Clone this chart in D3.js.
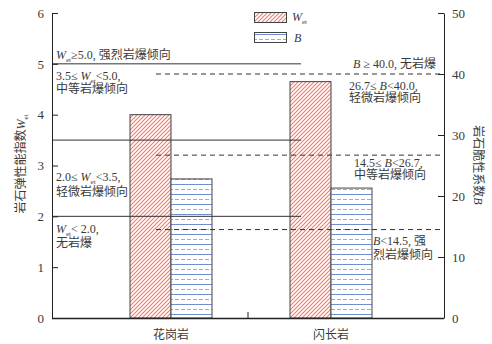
<!DOCTYPE html>
<html>
<head>
<meta charset="utf-8">
<script src="https://cdn.jsdelivr.net/npm/d3@7"></script>
<style>
  body { margin: 0; background: #fff; }
  svg text { font-family: "Liberation Serif", "Noto Sans CJK SC", serif; fill: #3a3a3a; }
</style>
</head>
<body>
<div id="chart"></div>
<script>
// data
var categories = ["花岗岩", "闪长岩"];
var wetValues = [4.0, 4.65];
var bValues = [22.8, 21.3];
var wetThresholds = [5.0, 3.5, 2.0];
var bThresholds = [40.0, 26.7, 14.5];
var wetTicks = [0, 1, 2, 3, 4, 5, 6];
var bTicks = [0, 10, 20, 30, 40, 50];

var W = 492, H = 344;
var plot = { left: 52, right: 444, top: 13, bottom: 318 };

var svg = d3.select("#chart").append("svg")
  .attr("width", W).attr("height", H);

var defs = svg.append("defs");
// red diagonal hatch
var hatch = defs.append("pattern")
  .attr("id", "hatchW")
  .attr("patternUnits", "userSpaceOnUse")
  .attr("width", 4).attr("height", 4);
hatch.append("rect").attr("width", 4).attr("height", 4).attr("fill", "#fff");
hatch.append("path")
  .attr("d", "M-1,1 l2,-2 M0,4 l4,-4 M3,5 l2,-2")
  .attr("fill", "none")
  .attr("stroke", "#f27a68").attr("stroke-width", 1.1);

// blue horizontal lines, solid + dashed
var hz = defs.append("pattern")
  .attr("id", "hatchB")
  .attr("patternUnits", "userSpaceOnUse")
  .attr("width", 12).attr("height", 10);
hz.append("rect").attr("width", 12).attr("height", 10).attr("fill", "#fff");
hz.append("line").attr("x1", 0).attr("x2", 12).attr("y1", 4.5).attr("y2", 4.5)
  .attr("stroke", "#6f8fd2").attr("stroke-width", 1);
hz.append("line").attr("x1", 1).attr("x2", 12).attr("y1", 9.5).attr("y2", 9.5)
  .attr("stroke", "#93ade2").attr("stroke-width", 1)
  .attr("stroke-dasharray", "4,2");

var x = d3.scaleBand().domain(categories).range([91, 411]);
var yW = d3.scaleLinear().domain([0, 6]).range([plot.bottom, plot.top]);
var yB = d3.scaleLinear().domain([0, 50]).range([plot.bottom, plot.top]);
var barW = 41;

// bars
categories.forEach(function (c, i) {
  var cx = x(c) + x.bandwidth() / 2;
  svg.append("rect")
    .attr("x", cx - barW).attr("y", yW(wetValues[i]))
    .attr("width", barW).attr("height", plot.bottom - yW(wetValues[i]))
    .attr("fill", "url(#hatchW)").attr("stroke", "#444").attr("stroke-width", 1);
  svg.append("rect")
    .attr("x", cx).attr("y", yB(bValues[i]))
    .attr("width", barW).attr("height", plot.bottom - yB(bValues[i]))
    .attr("fill", "url(#hatchB)").attr("stroke", "#444").attr("stroke-width", 1);
});

// threshold lines
var solidEnd = 301, dashStart = 156;
wetThresholds.forEach(function (t) {
  svg.append("line")
    .attr("x1", plot.left).attr("x2", solidEnd)
    .attr("y1", yW(t)).attr("y2", yW(t))
    .attr("stroke", "#333").attr("stroke-width", 1);
});
bThresholds.forEach(function (t) {
  svg.append("line")
    .attr("x1", dashStart).attr("x2", plot.right)
    .attr("y1", yB(t)).attr("y2", yB(t))
    .attr("stroke", "#333").attr("stroke-width", 1)
    .attr("stroke-dasharray", "5,4");
});

// axes
var axL = svg.append("g").attr("transform", "translate(" + plot.left + ",0)")
  .call(d3.axisLeft(yW).tickValues(wetTicks).tickSize(-6).tickSizeOuter(0).tickPadding(8).tickFormat(d3.format("d")));
var axR = svg.append("g").attr("transform", "translate(" + plot.right + ",0)")
  .call(d3.axisRight(yB).tickValues(bTicks).tickSize(-6).tickSizeOuter(0).tickPadding(8).tickFormat(d3.format("d")));
[axL, axR].forEach(function (g) {
  g.selectAll("path, line").attr("stroke", "#222");
  g.selectAll("text").style("font-size", "13px").attr("fill", "#3a3a3a")
    .style("font-family", "'Liberation Serif', serif");
});

svg.append("line").attr("x1", plot.left).attr("x2", plot.right)
  .attr("y1", plot.bottom + 0.5).attr("y2", plot.bottom + 0.5)
  .attr("stroke", "#222").attr("stroke-width", 1.3);
var mid = x.range()[0] + x.step();
svg.append("line").attr("x1", mid - 3).attr("x2", mid - 3)
  .attr("y1", plot.bottom).attr("y2", plot.bottom - 6).attr("stroke", "#222");

categories.forEach(function (c) {
  svg.append("text")
    .attr("x", x(c) + x.bandwidth() / 2).attr("y", 339)
    .attr("text-anchor", "middle").style("font-size", "12px")
    .text(c);
});

// rich text helper: segments [text, style]  style: "i" italic, "s" subscript, "r" back to baseline
function rich(px, py, segs, anchor, size) {
  var t = svg.append("text").attr("x", px).attr("y", py)
    .style("font-size", (size || 12) + "px")
    .attr("text-anchor", anchor || "start");
  segs.forEach(function (s) {
    var sp = t.append("tspan").text(s[0]);
    if (s[1] === "i") sp.style("font-style", "italic");
    if (s[1] === "s") sp.style("font-size", "7px").attr("dy", 3);
    if (s[1] === "r") sp.attr("dy", -3);
  });
  return t;
}

var Wet = [["W", "i"], ["et", "s"]];
function withW(pre, post) {
  return [].concat(pre ? [[pre]] : [], Wet, [[post, "r"]]);
}

// left annotations
rich(56, yW(5) - 5, withW("", "≥5.0, 强烈岩爆倾向"));
rich(56, yW(5) + 16, withW("3.5≤ ", "<5.0,"));
rich(56, yW(5) + 29, [["中等岩爆倾向"]]);
rich(56, yW(2) - 35, withW("2.0≤ ", "<3.5,"));
rich(56, yW(2) - 20, [["轻微岩爆倾向"]]);
rich(56, yW(2) + 17, withW("", "< 2.0,"));
rich(56, yW(2) + 31, [["无岩爆"]]);

// right annotations
rich(436, yB(40) - 6, [["B", "i"], [" ≥ 40.0, 无岩爆"]], "end");
rich(349, yB(40) + 16, [["26.7≤ "], ["B", "i"], ["<40.0,"]]);
rich(349, yB(40) + 28, [["轻微岩爆倾向"]]);
rich(354, yB(26.7) + 12, [["14.5≤ "], ["B", "i"], ["<26.7,"]]);
rich(354, yB(26.7) + 24, [["中等岩爆倾向"]]);
rich(373, yB(14.5) + 15, [["B", "i"], ["<14.5, 强"]]);
rich(373, yB(14.5) + 29, [["烈岩爆倾向"]]);

// legend
svg.append("rect").attr("x", 254.5).attr("y", 12.5).attr("width", 32).attr("height", 10)
  .attr("fill", "url(#hatchW)").attr("stroke", "#444");
svg.append("rect").attr("x", 254.5).attr("y", 32.5).attr("width", 32).attr("height", 10)
  .attr("fill", "url(#hatchB)").attr("stroke", "#444");
rich(292, 21, Wet, "start", 12);
rich(294, 42, [["B", "i"]], "start", 12);

// axis titles
var tl = svg.append("text")
  .attr("transform", "translate(25,164) rotate(-90)")
  .attr("text-anchor", "middle").style("font-size", "12px");
tl.append("tspan").text("岩石弹性能指数");
tl.append("tspan").text("W").style("font-style", "italic");
tl.append("tspan").text("et").style("font-size", "7px").attr("dy", 3);

var tr = svg.append("text")
  .attr("transform", "translate(474,165) rotate(90)")
  .attr("text-anchor", "middle").style("font-size", "12px");
tr.append("tspan").text("岩石脆性系数");
tr.append("tspan").text("B").style("font-style", "italic");
</script>
</body>
</html>
